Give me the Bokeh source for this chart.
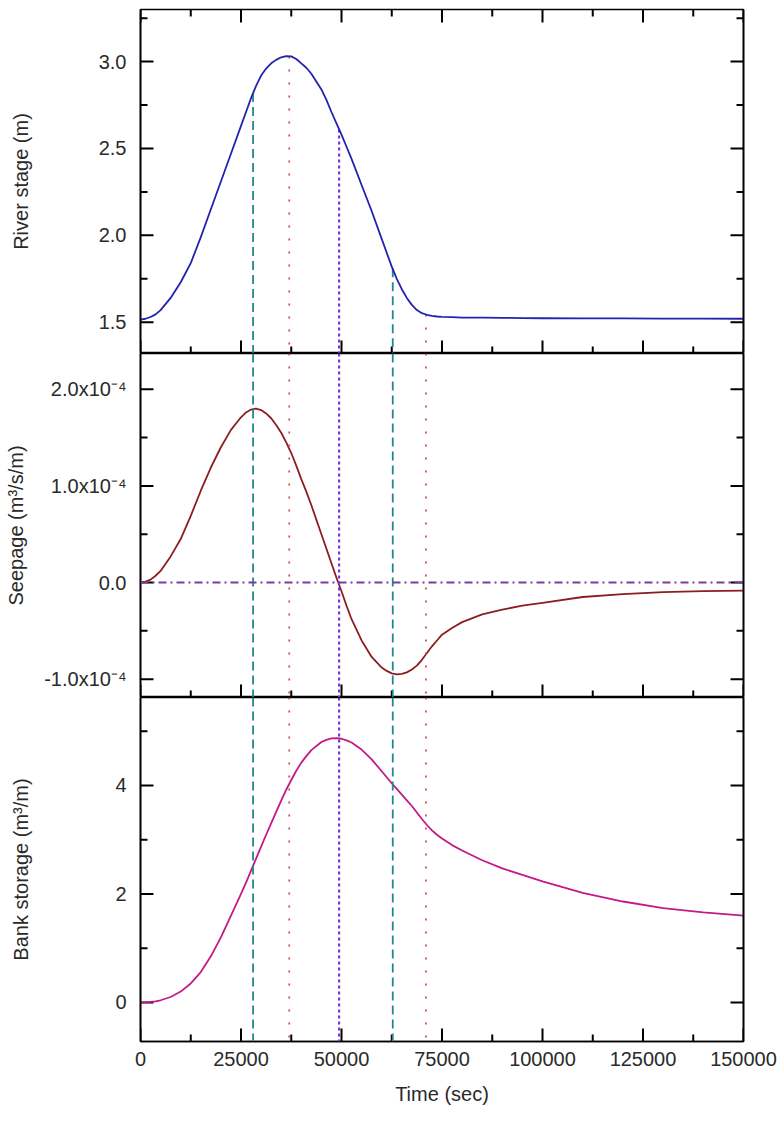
from bokeh.plotting import figure
from bokeh.layouts import column
from bokeh.models import (Range1d, LinearAxis, FixedTicker, CustomJSTickFormatter,
                          BasicTickFormatter, Span)
from bokeh.embed import file_html
from bokeh.resources import INLINE

# ---------------- data ----------------
time_s = [0, 1250, 2500, 3750, 5000, 7500, 10000, 12500, 15000, 17500,
          20000, 22500, 25000, 26250, 27500, 28750, 30000, 31250, 32500, 33750,
          35000, 36250, 37500, 38750, 40000, 41250, 42500, 45000, 46250, 47500,
          48750, 50000, 51250, 52500, 55000, 57500, 60000, 61250, 62500, 63750,
          65000, 66250, 67500, 68750, 70000, 71250, 72500, 73750, 75000, 77500,
          80000, 85000, 90000, 95000, 100000, 110000, 120000, 130000, 140000, 150000]

river_stage_m = [1.515, 1.52, 1.53, 1.545, 1.57, 1.64, 1.73, 1.84, 1.99, 2.15,
                 2.31, 2.47, 2.63, 2.71, 2.79, 2.86, 2.92, 2.96, 2.99, 3.01,
                 3.025, 3.032, 3.03, 3.015, 2.99, 2.965, 2.93, 2.84, 2.78, 2.71,
                 2.645, 2.58, 2.51, 2.44, 2.29, 2.14, 1.98, 1.90, 1.82, 1.75,
                 1.69, 1.64, 1.60, 1.57, 1.552, 1.543, 1.537, 1.533, 1.531, 1.529,
                 1.527, 1.526, 1.525, 1.524, 1.523, 1.522, 1.522, 1.521, 1.521, 1.52]

seepage_m3_s_m = [0.0, 0.01e-4, 0.03e-4, 0.07e-4, 0.12e-4, 0.27e-4, 0.45e-4, 0.69e-4, 0.95e-4, 1.19e-4,
                  1.40e-4, 1.58e-4, 1.71e-4, 1.76e-4, 1.79e-4, 1.80e-4, 1.785e-4, 1.75e-4, 1.70e-4, 1.63e-4,
                  1.55e-4, 1.45e-4, 1.34e-4, 1.21e-4, 1.07e-4, 0.94e-4, 0.80e-4, 0.50e-4, 0.35e-4, 0.20e-4,
                  0.05e-4, -0.09e-4, -0.24e-4, -0.38e-4, -0.60e-4, -0.77e-4, -0.88e-4, -0.915e-4, -0.94e-4, -0.95e-4,
                  -0.945e-4, -0.93e-4, -0.90e-4, -0.86e-4, -0.80e-4, -0.73e-4, -0.66e-4, -0.60e-4, -0.54e-4, -0.47e-4,
                  -0.41e-4, -0.33e-4, -0.28e-4, -0.24e-4, -0.21e-4, -0.15e-4, -0.12e-4, -0.10e-4, -0.09e-4, -0.085e-4]

bank_storage_m3_m = [0.0, 0.003, 0.01, 0.02, 0.04, 0.10, 0.20, 0.35, 0.56, 0.85,
                     1.20, 1.60, 2.00, 2.21, 2.43, 2.65, 2.87, 3.09, 3.30, 3.51,
                     3.72, 3.92, 4.10, 4.27, 4.42, 4.54, 4.65, 4.80, 4.84, 4.865,
                     4.87, 4.86, 4.83, 4.79, 4.66, 4.48, 4.26, 4.15, 4.04, 3.935,
                     3.83, 3.725, 3.62, 3.50, 3.38, 3.27, 3.17, 3.09, 3.02, 2.90,
                     2.80, 2.62, 2.47, 2.35, 2.23, 2.02, 1.86, 1.74, 1.66, 1.60]

# marker times and river stage where the marker lines start in the top panel
teal_mark_times = [28000, 62750]
teal_mark_stage = [2.82, 1.81]
red_mark_times = [37000, 71000]
red_mark_stage = [3.03, 1.545]
purple_mark_times = [49400]
purple_mark_stage = [2.61]

# ticks
x_major = [0, 25000, 50000, 75000, 100000, 125000, 150000]
x_minor = [12500, 37500, 62500, 87500, 112500, 137500]
stage_major = [1.5, 2.0, 2.5, 3.0]
stage_minor = [1.75, 2.25, 2.75, 3.25]
seep_major = [-1e-4, 0.0, 1e-4, 2e-4]
seep_minor = [-0.5e-4, 0.5e-4, 1.5e-4]
store_major = [0, 2, 4]
store_minor = [1, 3, 5]

# ---------------- styling ----------------
FONT = "Liberation Sans"
TXT = "#2a2a2a"
C_STAGE = "#2323b0"
C_SEEP = "#8a1f22"
C_STORE = "#c41a86"
C_TEAL = "#23888a"
C_RED = "#d0504e"
C_PURPLE = "#7a35dc"
C_ZERO = "#7c3a9e"

FRAME_W = 603
FRAME_H = 344
MAJ_LEN = 13
MIN_LEN = 7

x_range = Range1d(0, 150000)


def make_fig(height, yr, top, bottom):
    p = figure(width=778, height=height, x_range=x_range, y_range=yr,
               output_backend="svg", toolbar_location=None,
               min_border_left=140, min_border_right=35,
               min_border_top=top, min_border_bottom=bottom,
               background_fill_color="white", border_fill_color="white")
    p.xgrid.visible = False
    p.ygrid.visible = False
    p.outline_line_color = "black"
    p.outline_line_width = 1.6
    return p


def style_axis(ax, ticker, formatter=None, show=True, label=None,
               label_standoff=12, title_standoff=10):
    ax.ticker = ticker
    ax.major_tick_in = 0
    ax.major_tick_out = 0
    ax.minor_tick_in = 0
    ax.minor_tick_out = 0
    ax.axis_line_color = "black"
    ax.axis_line_width = 1.6
    if formatter is not None:
        ax.formatter = formatter
    if show:
        ax.major_label_text_font = FONT
        ax.major_label_text_font_size = "20px"
        ax.major_label_text_color = TXT
        ax.major_label_standoff = label_standoff
    else:
        ax.major_label_text_font_size = "0px"
        ax.major_label_standoff = 0
        ax.major_label_text_alpha = 0
    if label is not None:
        ax.axis_label = label
        ax.axis_label_text_font = FONT
        ax.axis_label_text_font_size = "20px"
        ax.axis_label_text_font_style = "normal"
        ax.axis_label_text_color = TXT
        ax.axis_label_standoff = title_standoff
    else:
        ax.axis_label_standoff = 0


def add_ticks(p, ymaj, ymin, top=False):
    """Inward tick marks drawn along the frame edges (lengths in screen px)."""
    xr, yr = p.x_range, p.y_range
    dx = (xr.end - xr.start) / FRAME_W
    dy = (yr.end - yr.start) / FRAME_H
    kw = dict(line_color="black", line_width=2)
    for ticks, ln in ((x_major, MAJ_LEN), (x_minor, MIN_LEN)):
        n = len(ticks)
        p.segment(x0=ticks, y0=[yr.start] * n, x1=ticks, y1=[yr.start + ln * dy] * n, **kw)
        if top:
            p.segment(x0=ticks, y0=[yr.end] * n, x1=ticks, y1=[yr.end - ln * dy] * n, **kw)
    for ticks, ln in ((ymaj, MAJ_LEN), (ymin, MIN_LEN)):
        n = len(ticks)
        p.segment(x0=[xr.start] * n, y0=ticks, x1=[xr.start + ln * dx] * n, y1=ticks, **kw)
        p.segment(x0=[xr.end] * n, y0=ticks, x1=[xr.end - ln * dx] * n, y1=ticks, **kw)


def add_marks(p, top_values=None):
    groups = ((teal_mark_times, teal_mark_stage, C_TEAL, 1.8, "9 5"),
              (red_mark_times, red_mark_stage, C_RED, 1.8, "2 11"),
              (purple_mark_times, purple_mark_stage, C_PURPLE, 2.2, "3 3"))
    for times, stages, col, lw, dash in groups:
        if top_values:
            ylo = p.y_range.start
            p.segment(x0=times, y0=stages, x1=times, y1=[ylo] * len(times),
                      line_color=col, line_width=lw, line_dash=dash)
        else:
            for t in times:
                p.add_layout(Span(location=t, dimension="height", line_color=col,
                                  line_width=lw, line_dash=dash))


# ---------------- panel 1: river stage ----------------
p1 = make_fig(353, Range1d(1.32, 3.30), 9, 0)
style_axis(p1.yaxis[0], FixedTicker(ticks=stage_major, minor_ticks=stage_minor),
           CustomJSTickFormatter(code="return tick.toFixed(1);"),
           label="River stage (m)", label_standoff=14, title_standoff=64)
style_axis(p1.xaxis[0], FixedTicker(ticks=x_major, minor_ticks=x_minor), show=False)
p1.add_layout(LinearAxis(), "right")
style_axis(p1.right[0], FixedTicker(ticks=stage_major, minor_ticks=stage_minor), show=False)
add_ticks(p1, stage_major, stage_minor, top=True)
add_marks(p1, top_values=True)
p1.line(time_s, river_stage_m, line_color=C_STAGE, line_width=1.8, line_join="round")

# ---------------- panel 2: seepage ----------------
p2 = make_fig(344, Range1d(-1.19e-4, 2.37e-4), 0, 0)
seep_code = """
if (Math.abs(tick) < 1e-12) { return "0.0"; }
return (tick / 1e-4).toFixed(1) + "x10\u207b\u2074";
"""
style_axis(p2.yaxis[0], FixedTicker(ticks=seep_major, minor_ticks=seep_minor),
           CustomJSTickFormatter(code=seep_code),
           label="Seepage (m\u00b3/s/m)", label_standoff=14, title_standoff=14)
style_axis(p2.xaxis[0], FixedTicker(ticks=x_major, minor_ticks=x_minor), show=False)
p2.add_layout(LinearAxis(), "right")
style_axis(p2.right[0], FixedTicker(ticks=seep_major, minor_ticks=seep_minor), show=False)
add_ticks(p2, seep_major, seep_minor)
add_marks(p2)
p2.add_layout(Span(location=0.0, dimension="width", line_color=C_ZERO,
                   line_width=2, line_dash="8 4 2 4"))
p2.line(time_s, seepage_m3_s_m, line_color=C_SEEP, line_width=1.8, line_join="round")

# ---------------- panel 3: bank storage ----------------
p3 = make_fig(429, Range1d(-0.72, 5.62), 0, 85)
style_axis(p3.yaxis[0], FixedTicker(ticks=store_major, minor_ticks=store_minor),
           CustomJSTickFormatter(code="return tick.toFixed(0);"),
           label="Bank storage (m\u00b3/m)", label_standoff=14, title_standoff=80)
style_axis(p3.xaxis[0], FixedTicker(ticks=x_major, minor_ticks=x_minor),
           BasicTickFormatter(use_scientific=False),
           label="Time (sec)", label_standoff=10, title_standoff=14)
p3.add_layout(LinearAxis(), "right")
style_axis(p3.right[0], FixedTicker(ticks=store_major, minor_ticks=store_minor), show=False)
add_ticks(p3, store_major, store_minor)
add_marks(p3)
p3.line(time_s, bank_storage_m3_m, line_color=C_STORE, line_width=1.8, line_join="round")

layout = column(p1, p2, p3, spacing=0)
open("out.html", "w").write(file_html(layout, INLINE))
